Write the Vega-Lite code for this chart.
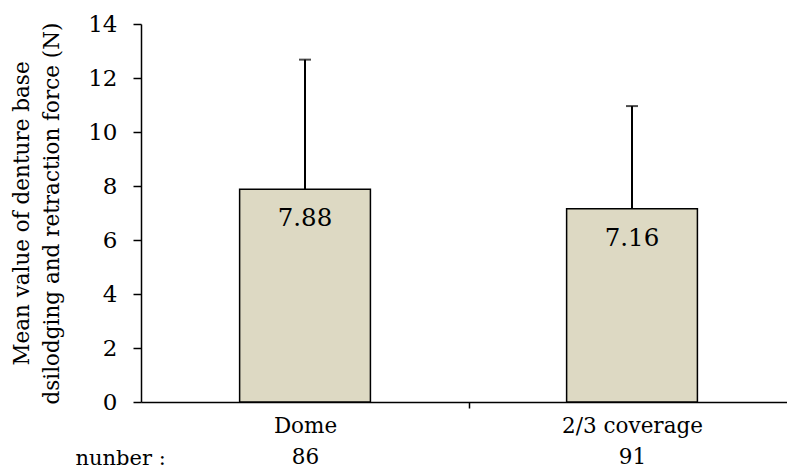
{
  "$schema": "https://vega.github.io/schema/vega-lite/v6.json",
  "width": 646,
  "height": 378,
  "autosize": "none",
  "padding": {"left": 141, "top": 24, "right": 0, "bottom": 66},
  "background": "white",
  "config": {
    "view": {"stroke": null},
    "font": "DejaVu Serif",
    "axis": {"labelFont": "DejaVu Serif", "titleFont": "DejaVu Serif", "labelColor": "black", "titleColor": "black", "domainColor": "black", "tickColor": "black", "grid": false, "domainWidth": 1.5, "tickWidth": 1.5}
  },
  "data": {
    "values": [
      {"group": "Dome", "mean": 7.88, "upper": 12.68, "n": 86},
      {"group": "2/3 coverage", "mean": 7.16, "upper": 10.96, "n": 91}
    ]
  },
  "encoding": {
    "x": {
      "field": "group",
      "type": "nominal",
      "sort": null,
      "scale": {"paddingInner": 0.6, "paddingOuter": 0.2878, "align": 0.524},
      "axis": {
        "title": "nunber :",
        "titleFontSize": 21,
        "titleFontWeight": "normal",
        "titleAnchor": "start",
        "titleAlign": "left",
        "titleBaseline": "middle",
        "titleX": -66,
        "titleY": 56,
        "labelAngle": 0,
        "labelFontSize": 21.5,
        "labelLineHeight": 31,
        "labelPadding": 7,
        "labelBaseline": "top",
        "labelOffset": -163.5,
        "labelExpr": "datum.value == 'Dome' ? ['Dome', '86'] : ['2/3 coverage', '91']",
        "tickOffset": 163.5,
        "tickSize": 6
      }
    }
  },
  "layer": [
    {
      "mark": {"type": "rule", "color": "black", "strokeWidth": 2},
      "encoding": {
        "y": {"field": "mean", "type": "quantitative"},
        "y2": {"field": "upper"}
      }
    },
    {
      "mark": {"type": "tick", "color": "black", "size": 12, "thickness": 2, "orient": "horizontal"},
      "encoding": {
        "y": {"field": "upper", "type": "quantitative"}
      }
    },
    {
      "mark": {"type": "bar", "fill": "#DDD9C3", "stroke": "black", "strokeWidth": 1.5},
      "encoding": {
        "y": {
          "field": "mean",
          "type": "quantitative",
          "scale": {"domain": [0, 14]},
          "axis": {
            "title": ["Mean value of denture base", "dsilodging and retraction force (N)"],
            "titleFontSize": 21.5,
            "titleFontWeight": "normal",
            "titleLineHeight": 30,
            "titlePadding": 24,
            "labelFontSize": 23,
            "labelPadding": 16,
            "labelOverlap": false,
            "tickSize": 8,
            "values": [0, 2, 4, 6, 8, 10, 12, 14]
          }
        }
      }
    },
    {
      "mark": {"type": "text", "fontSize": 24.5, "dy": 30, "baseline": "middle", "color": "black"},
      "encoding": {
        "y": {"field": "mean", "type": "quantitative"},
        "text": {"field": "mean", "type": "quantitative", "format": ".2f"}
      }
    }
  ]
}
